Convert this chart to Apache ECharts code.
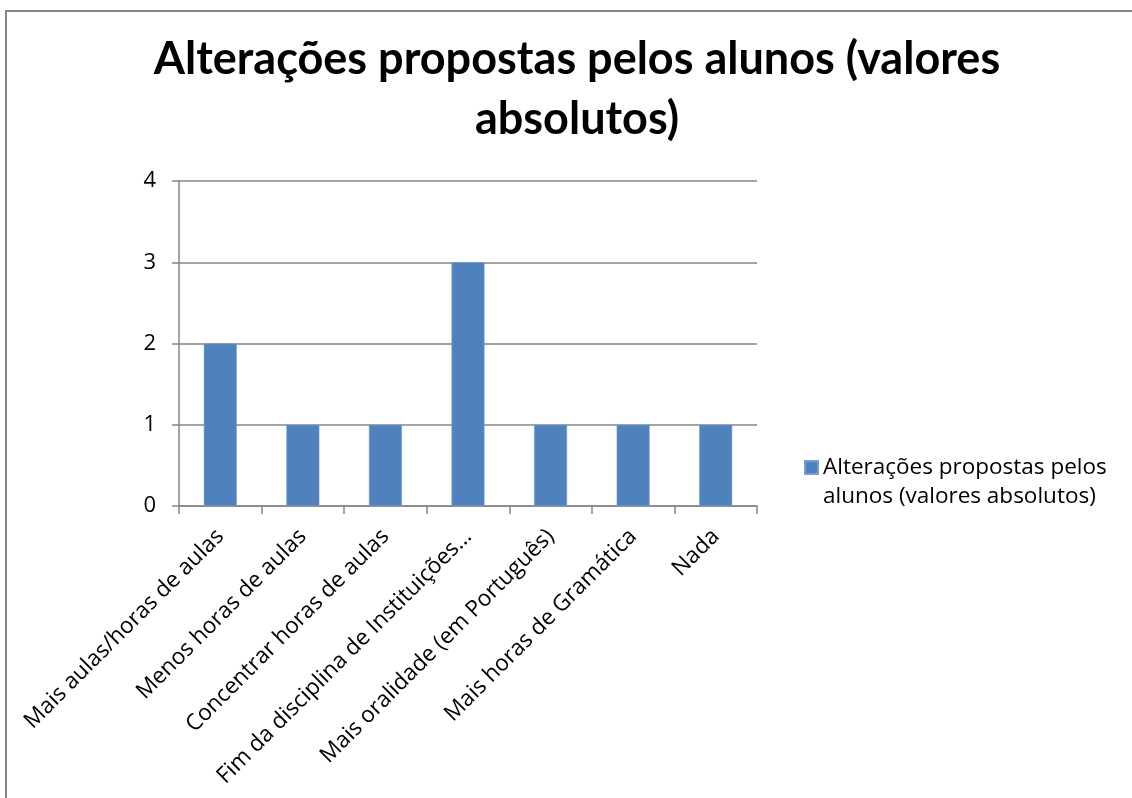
<!DOCTYPE html>
<html>
<head>
<meta charset="utf-8">
<style>
  html, body { margin: 0; padding: 0; background: #fff; }
  #frame { position: absolute; left: 5px; top: 10px; width: 1140px; height: 800px;
           border: 2px solid #868686; box-sizing: border-box; }
  #chart { position: absolute; left: 0; top: 0; width: 1132px; height: 798px; }
</style>
<script src="https://cdn.jsdelivr.net/npm/echarts@6/dist/echarts.min.js"></script>
</head>
<body>
<div id="frame"></div>
<div id="chart"></div>
<script>
// Proposals made by students, counted per category
const categories = [
  'Mais aulas/horas de aulas',
  'Menos horas de aulas',
  'Concentrar horas de aulas',
  'Fim da disciplina de Instituições…',
  'Mais oralidade (em Português)',
  'Mais horas de Gramática',
  'Nada'
];
const counts = [2, 1, 1, 3, 1, 1, 1];
const seriesName = 'Alterações propostas pelos alunos (valores absolutos)';
const yTicks = [0, 1, 2, 3, 4];

const TITLE_FONT = 'Lato';
const FONT = 'Open Sans';
const chart = echarts.init(document.getElementById('chart'), null, { renderer: 'canvas' });

chart.setOption({
  animation: false,
  backgroundColor: 'transparent',
  title: {
    text: 'Alterações propostas pelos alunos (valores\nabsolutos)',
    left: 572,
    textAlign: 'center',
    top: 24,
    textStyle: {
      fontFamily: TITLE_FONT,
      fontWeight: 'bold',
      fontSize: 45,
      lineHeight: 60,
      color: '#000'
    }
  },
  legend: {
    left: 799,
    top: 419,
    orient: 'vertical',
    icon: 'rect',
    itemWidth: 13,
    itemHeight: 13,
    itemGap: 4,
    selectedMode: false,
    formatter: function (name) {
      // leading blank line keeps the first text line level with the swatch
      return '\nAlterações propostas pelos\nalunos (valores absolutos)';
    },
    textStyle: { fontFamily: FONT, fontSize: 22.5, lineHeight: 29, color: '#000' }
  },
  grid: { left: 179, right: 375, top: 181, bottom: 292, containLabel: false },
  xAxis: {
    type: 'category',
    data: categories,
    axisLine: { lineStyle: { color: '#868686', width: 1.5 } },
    axisTick: { show: true, length: 8, alignWithLabel: false, lineStyle: { color: '#868686', width: 1.5 } },
    axisLabel: {
      interval: 0,
      rotate: 45,
      margin: 27,
      fontFamily: FONT,
      fontSize: 22.5,
      color: '#000'
    }
  },
  yAxis: {
    type: 'value',
    min: yTicks[0],
    max: yTicks[yTicks.length - 1],
    interval: 1,
    axisLine: { show: true, lineStyle: { color: '#868686', width: 1.5 } },
    axisTick: { show: true, length: 7, lineStyle: { color: '#868686', width: 1.5 } },
    splitLine: { lineStyle: { color: '#868686', width: 1.5 } },
    axisLabel: { margin: 23, fontFamily: FONT, fontSize: 22, color: '#000' }
  },
  series: [{
    name: seriesName,
    type: 'bar',
    data: counts,
    barWidth: '40%',
    itemStyle: { color: '#4F81BD', borderColor: '#7A9FCD', borderWidth: 0.6 }
  }]
});
</script>
</body>
</html>
